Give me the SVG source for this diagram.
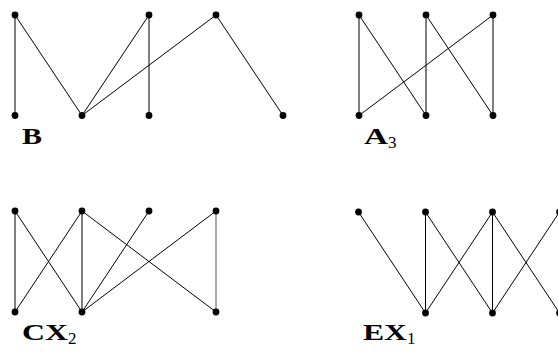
<svg xmlns="http://www.w3.org/2000/svg" width="558" height="352" viewBox="0 0 558 352">
<style>
.e{stroke:#000;stroke-width:1;fill:none}
.n{fill:#000}
.l{font-family:"Liberation Serif","DejaVu Serif",serif;font-weight:bold;font-size:24px;fill:#000}
.s{font-weight:normal;font-size:17px}
</style>
<rect width="558" height="352" fill="#fff"/>
<g id="connectors" class="e">
<!-- B -->
<line x1="15" y1="15" x2="15" y2="115.5"/>
<line x1="15" y1="15" x2="82" y2="115.5"/>
<line x1="149" y1="15" x2="82" y2="115.5"/>
<line x1="149" y1="15" x2="149" y2="115.5"/>
<line x1="216" y1="15" x2="82" y2="115.5"/>
<line x1="216" y1="15" x2="283" y2="115.5"/>
<!-- A3 -->
<line x1="359" y1="15" x2="359" y2="115.5"/>
<line x1="359" y1="15" x2="426" y2="115.5"/>
<line x1="426" y1="15" x2="426" y2="115.5"/>
<line x1="426" y1="15" x2="493" y2="115.5"/>
<line x1="493" y1="15" x2="493" y2="115.5"/>
<line x1="493" y1="15" x2="359" y2="115.5"/>
<!-- CX2 -->
<line x1="15" y1="211" x2="15" y2="312"/>
<line x1="15" y1="211" x2="82" y2="312"/>
<line x1="82" y1="211" x2="15" y2="312"/>
<line x1="82" y1="211" x2="82" y2="312"/>
<line x1="82" y1="211" x2="216" y2="312"/>
<line x1="149" y1="211" x2="82" y2="312"/>
<line x1="216" y1="211" x2="82" y2="312"/>
<line x1="216" y1="211" x2="216" y2="312" stroke="#555"/>
<!-- EX1 -->
<line x1="358.5" y1="212" x2="425.5" y2="313"/>
<line x1="425.5" y1="212" x2="425.5" y2="313"/>
<line x1="425.5" y1="212" x2="492.5" y2="313"/>
<line x1="492.5" y1="212" x2="425.5" y2="313"/>
<line x1="492.5" y1="212" x2="492.5" y2="313"/>
<line x1="492.5" y1="212" x2="559.5" y2="313"/>
<line x1="559.5" y1="212" x2="492.5" y2="313"/>
</g>
<g id="B">
<circle class="n" cx="15" cy="15" r="3.4"/>
<circle class="n" cx="149" cy="15" r="3.4"/>
<circle class="n" cx="216" cy="15" r="3.4"/>
<circle class="n" cx="15" cy="115.5" r="3.4"/>
<circle class="n" cx="82" cy="115.5" r="3.4"/>
<circle class="n" cx="149" cy="115.5" r="3.4"/>
<circle class="n" cx="283" cy="115.5" r="3.4"/>
<text class="l" x="22" y="144" textLength="20" lengthAdjust="spacingAndGlyphs">B</text>
</g>
<g id="A3">
<circle class="n" cx="359" cy="15" r="3.4"/>
<circle class="n" cx="426" cy="15" r="3.4"/>
<circle class="n" cx="493" cy="15" r="3.4"/>
<circle class="n" cx="359" cy="115.5" r="3.4"/>
<circle class="n" cx="426" cy="115.5" r="3.4"/>
<circle class="n" cx="493" cy="115.5" r="3.4"/>
<text class="l" x="364" y="144"><tspan textLength="24" lengthAdjust="spacingAndGlyphs">A</tspan><tspan class="s" dy="4">3</tspan></text>
</g>
<g id="CX2">
<circle class="n" cx="15" cy="211" r="3.4"/>
<circle class="n" cx="82" cy="211" r="3.4"/>
<circle class="n" cx="149" cy="211" r="3.4"/>
<circle class="n" cx="216" cy="211" r="3.4"/>
<circle class="n" cx="15" cy="312" r="3.4"/>
<circle class="n" cx="82" cy="312" r="3.4"/>
<circle class="n" cx="216" cy="312" r="3.4"/>
<text class="l" x="22" y="340"><tspan textLength="46" lengthAdjust="spacingAndGlyphs">CX</tspan><tspan class="s" dy="4">2</tspan></text>
</g>
<g id="EX1">
<circle class="n" cx="358.5" cy="212" r="3.4"/>
<circle class="n" cx="425.5" cy="212" r="3.4"/>
<circle class="n" cx="492.5" cy="212" r="3.4"/>
<circle class="n" cx="559.5" cy="212" r="3.4"/>
<circle class="n" cx="425.5" cy="313" r="3.4"/>
<circle class="n" cx="492.5" cy="313" r="3.4"/>
<circle class="n" cx="559.5" cy="313" r="3.4"/>
<text class="l" x="363" y="340"><tspan textLength="44" lengthAdjust="spacingAndGlyphs">EX</tspan><tspan class="s" dy="4">1</tspan></text>
</g>
</svg>
